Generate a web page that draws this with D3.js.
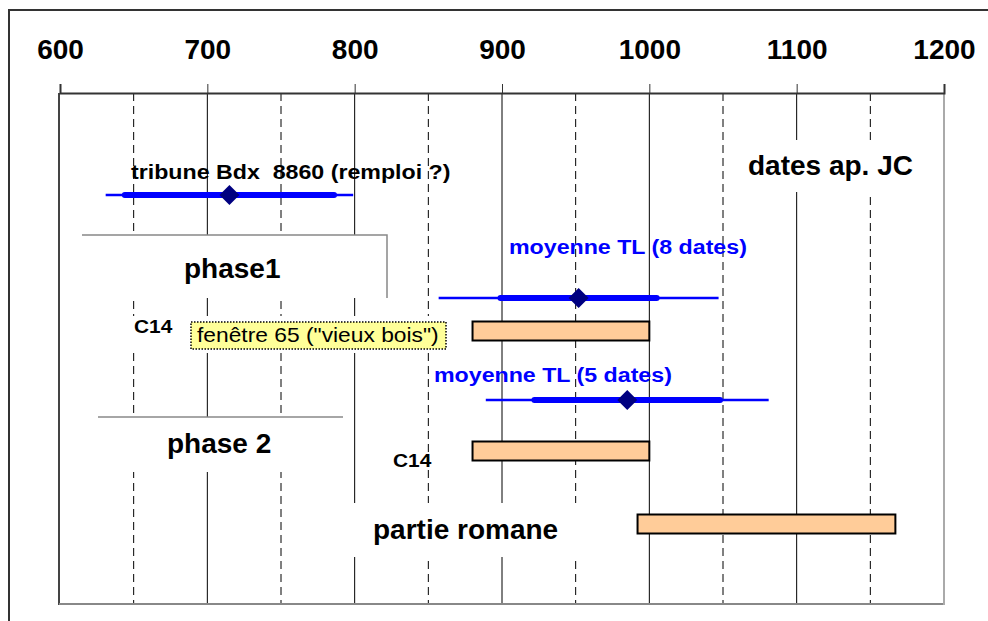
<!DOCTYPE html>
<html>
<head>
<meta charset="utf-8">
<script src="https://cdn.jsdelivr.net/npm/d3@7"></script>
<style>
  body { margin: 0; background: #fff; }
  text { font-family: "Liberation Sans", Arial, sans-serif; white-space: pre; }
</style>
</head>
<body>
<script>
// Data (years AD)
var tickValues = [600, 700, 800, 900, 1000, 1100, 1200];
var majorGrid = [700, 800, 900, 1000, 1100];
var minorGrid = [650, 750, 850, 950, 1050, 1150];

// TL dates: mean, inner (thick) and outer (thin) half-widths
var tlNames = ["tribune Bdx  8860 (remploi ?)", "moyenne TL (8 dates)", "moyenne TL (5 dates)"];
var tlMeans = [715, 952, 985];
var tlInner = [71, 53, 63];
var tlOuter = [84, 95, 96];

// C14 ranges
var c14Names = ["C14", "C14", "partie romane"];
var c14Start = [880, 880, 992];
var c14End = [1000, 1000, 1167];

// layout (pixels)
var W = 988, H = 621;
var plot = {left: 60, right: 944, top: 93, bottom: 605};
var tlRowY = [195, 298, 400];
var tlLabelPos = [[131, 179], [509, 254], [434, 382]];
var c14RowY = [331, 451, 524];
var barH = 19;

var svg = d3.select("body")
  .append("svg")
  .attr("width", W)
  .attr("height", H);

var x = d3.scaleLinear().domain([600, 1200]).range([plot.left, plot.right]);

// outer frame
svg.append("path")
  .attr("d", "M9," + H + "V10H" + W)
  .attr("fill", "none")
  .attr("stroke", "#333")
  .attr("stroke-width", 2);

// plot border (left dark, right/bottom grey)
svg.append("line")
  .attr("x1", plot.left - 1).attr("x2", plot.left - 1)
  .attr("y1", plot.top).attr("y2", plot.bottom)
  .attr("stroke", "#444").attr("stroke-width", 2);
svg.append("line")
  .attr("x1", plot.left - 1).attr("x2", plot.right)
  .attr("y1", plot.bottom - 1).attr("y2", plot.bottom - 1)
  .attr("stroke", "#888").attr("stroke-width", 2);
svg.append("line")
  .attr("x1", plot.right).attr("x2", plot.right)
  .attr("y1", plot.top).attr("y2", plot.bottom)
  .attr("stroke", "#aaa").attr("stroke-width", 2);

// grid lines
svg.selectAll(".major")
  .data(majorGrid)
  .enter()
  .append("line")
  .attr("class", "major")
  .attr("x1", function(d) { return x(d); })
  .attr("x2", function(d) { return x(d); })
  .attr("y1", plot.top)
  .attr("y2", plot.bottom - 2)
  .attr("stroke", "#000")
  .attr("stroke-width", 1);

svg.selectAll(".minor")
  .data(minorGrid)
  .enter()
  .append("line")
  .attr("class", "minor")
  .attr("x1", function(d) { return x(d); })
  .attr("x2", function(d) { return x(d); })
  .attr("y1", plot.top)
  .attr("y2", plot.bottom - 2)
  .attr("stroke", "#000")
  .attr("stroke-width", 1)
  .attr("stroke-dasharray", "8,5");

// top axis
var axis = svg.append("g")
  .attr("transform", "translate(0," + plot.top + ")")
  .call(d3.axisTop(x).tickValues(tickValues).tickSize(9).tickPadding(25).tickFormat(d3.format("d")));
axis.select(".domain").attr("stroke", "#333").attr("stroke-width", 2);
axis.selectAll(".tick line").attr("stroke", "#333").attr("stroke-width", 1);
axis.selectAll(".tick text")
  .attr("fill", "#000")
  .style("font-family", "'Liberation Sans', Arial, sans-serif")
  .style("font-size", "28px")
  .style("font-weight", "bold");

// white text boxes hiding the grid
function whiteBox(x0, y0, w, h) {
  return svg.append("rect")
    .attr("x", x0).attr("y", y0)
    .attr("width", w).attr("height", h)
    .attr("fill", "#fff");
}
whiteBox(82, 235, 305, 63);
svg.append("path")
  .attr("d", "M82,235H387V298")
  .attr("fill", "none").attr("stroke", "#888").attr("stroke-width", 1.5);
whiteBox(98, 417, 245, 55);
svg.append("line")
  .attr("x1", 98).attr("x2", 343).attr("y1", 417).attr("y2", 417)
  .attr("stroke", "#888").attr("stroke-width", 1.5);
whiteBox(732, 140, 200, 52);
whiteBox(126, 316, 322, 37);
whiteBox(345, 503, 260, 54);

// big labels
function bigLabel(t, px, py) {
  svg.append("text")
    .attr("x", px).attr("y", py)
    .style("font-size", "28px")
    .style("font-weight", "bold")
    .attr("fill", "#000")
    .text(t);
}
bigLabel("phase1", 184, 278);
bigLabel("phase 2", 167, 453);
bigLabel("dates ap. JC", 748, 175);
bigLabel(c14Names[2], 373, 539);

// small labels (stretched horizontally like the original)
function smallLabel(t, px, py, size, color, weight, sx) {
  svg.append("text")
    .attr("transform", "translate(" + px + "," + py + ") scale(" + sx + ",1)")
    .style("font-size", size + "px")
    .style("font-weight", weight)
    .attr("fill", color)
    .text(t);
}
smallLabel(c14Names[0], 134, 333, 18, "#000", "bold", 1.16);
smallLabel(c14Names[1], 393, 467, 18, "#000", "bold", 1.16);

// yellow note box
svg.append("rect")
  .attr("x", 191).attr("y", 322)
  .attr("width", 255).attr("height", 27)
  .attr("fill", "#ffff99")
  .attr("stroke", "#000")
  .attr("stroke-width", 1.5)
  .attr("stroke-dasharray", "1.5,1.5");
smallLabel("fenêtre 65 (\"vieux bois\")", 197, 342, 20, "#000", "normal", 1.14);

// TL labels
tlNames.forEach(function(n, i) {
  smallLabel(n, tlLabelPos[i][0], tlLabelPos[i][1], 20, i === 0 ? "#000" : "#0000ff", "bold", 1.16);
});

// C14 bars
svg.selectAll(".c14")
  .data(c14Start)
  .enter()
  .append("rect")
  .attr("class", "c14")
  .attr("x", function(d) { return x(d); })
  .attr("y", function(d, i) { return c14RowY[i] - barH / 2; })
  .attr("width", function(d, i) { return x(c14End[i]) - x(d); })
  .attr("height", barH)
  .attr("fill", "#ffcc99")
  .attr("stroke", "#000")
  .attr("stroke-width", 2);

// TL error bars
var tl = svg.selectAll(".tl")
  .data(tlMeans)
  .enter()
  .append("g")
  .attr("class", "tl");

tl.append("line")
  .attr("x1", function(d, i) { return x(d - tlOuter[i]); })
  .attr("x2", function(d, i) { return x(d + tlOuter[i]); })
  .attr("y1", function(d, i) { return tlRowY[i]; })
  .attr("y2", function(d, i) { return tlRowY[i]; })
  .attr("stroke", "#0000ff")
  .attr("stroke-width", 2.5);

tl.append("line")
  .attr("x1", function(d, i) { return x(d - tlInner[i]); })
  .attr("x2", function(d, i) { return x(d + tlInner[i]); })
  .attr("y1", function(d, i) { return tlRowY[i]; })
  .attr("y2", function(d, i) { return tlRowY[i]; })
  .attr("stroke", "#0000ff")
  .attr("stroke-width", 6)
  .attr("stroke-linecap", "round");

tl.append("path")
  .attr("d", d3.symbol().type(d3.symbolSquare).size(200))
  .attr("transform", function(d, i) { return "translate(" + x(d) + "," + tlRowY[i] + ") rotate(45)"; })
  .attr("fill", "#000080");
</script>
</body>
</html>
